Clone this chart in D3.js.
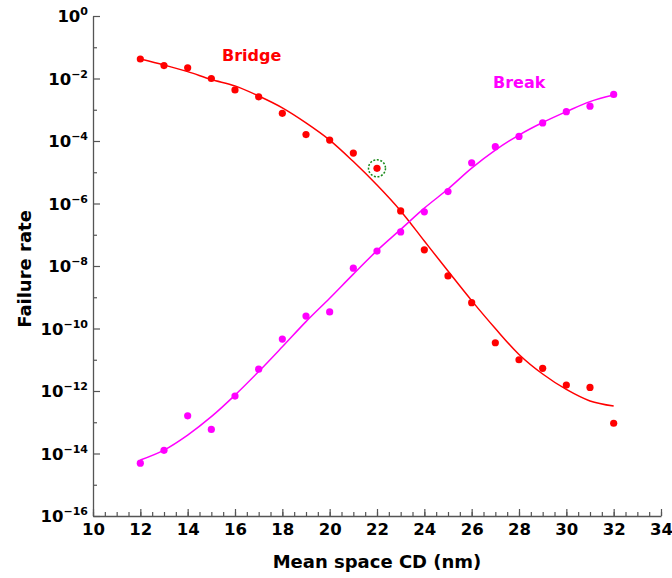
<!DOCTYPE html>
<html>
<head>
<meta charset="utf-8">
<script src="https://cdn.jsdelivr.net/npm/d3@7/dist/d3.min.js"></script>
<style>
  body { margin: 0; background: #fff; }
  svg { display: block; font-family: "DejaVu Sans", Verdana, sans-serif; font-weight: bold; }
</style>
</head>
<body>
<div id="chart"></div>
<script>
// mean space CD (nm)
const spaceCD = [12, 13, 14, 15, 16, 17, 18, 19, 20, 21, 22, 23, 24, 25, 26, 27, 28, 29, 30, 31, 32];

// measured failure rates
const bridgePoints = [4.2e-2, 2.6e-2, 2.2e-2, 1.0e-2, 4.3e-3, 2.6e-3, 7.7e-4, 1.6e-4, 1.07e-4, 4.1e-5, 1.34e-5,
  5.8e-7, 3.3e-8, 4.8e-9, 6.7e-10, 3.5e-11, 1.0e-11, 5.3e-12, 1.55e-12, 1.3e-12, 9.3e-14];
const breakPoints = [4.9e-15, 1.26e-14, 1.6e-13, 5.9e-14, 6.9e-13, 5.0e-12, 4.6e-11, 2.5e-10, 3.4e-10, 8.5e-9, 3.0e-8,
  1.23e-7, 5.4e-7, 2.4e-6, 2.0e-5, 6.6e-5, 1.4e-4, 3.8e-4, 8.7e-4, 1.3e-3, 3.1e-3];

// fitted curves (at each CD)
const bridgeFit = [4.2e-2, 2.7e-2, 1.66e-2, 9.3e-3, 5.8e-3, 2.75e-3, 1.15e-3, 3.8e-4, 1.07e-4, 2.2e-5, 3.9e-6,
  5.8e-7, 6.3e-8, 6.9e-9, 7.8e-10, 1.0e-10, 1.48e-11, 3.5e-12, 1.12e-12, 4.8e-13, 3.3e-13];
const breakFit = [6.2e-15, 1.29e-14, 3.9e-14, 1.51e-13, 7.4e-13, 4.2e-12, 2.6e-11, 1.66e-10, 9.3e-10, 5.5e-9, 3.1e-8,
  1.48e-7, 7.1e-7, 2.9e-6, 1.35e-5, 5.1e-5, 1.55e-4, 3.9e-4, 8.7e-4, 1.82e-3, 2.95e-3];

const highlightCD = 22;

const xTicks = [10, 12, 14, 16, 18, 20, 22, 24, 26, 28, 30, 32, 34];
const yExponents = [0, -2, -4, -6, -8, -10, -12, -14, -16];
const yMinorExponents = [-1, -3, -5, -7, -9, -11, -13, -15];

const W = 672, H = 578;
const margin = {top: 16, right: 11, bottom: 62, left: 93};
const width = W - margin.left - margin.right;
const height = H - margin.top - margin.bottom;

const svg = d3.select("#chart").append("svg")
    .attr("width", W)
    .attr("height", H);

const g = svg.append("g")
    .attr("transform", `translate(${margin.left},${margin.top})`);

const x = d3.scaleLinear().domain([10, 34]).range([0, width]);
const y = d3.scaleLog().domain([1e-16, 1]).range([height, 0]);

const axisColor = "#555";

// x axis: major + minor ticks pointing inward
const xMinor = d3.range(0, 49).map(i => 10 + i * 0.5);
g.append("g")
    .attr("transform", `translate(0,${height})`)
    .call(d3.axisBottom(x).tickValues(xMinor).tickSizeInner(-4).tickSizeOuter(0).tickFormat(""))
    .call(a => a.select(".domain").remove())
    .call(a => a.selectAll("line").attr("stroke", axisColor).attr("stroke-width", 1.2));

const xAxis = g.append("g")
    .attr("transform", `translate(0,${height})`)
    .call(d3.axisBottom(x).tickValues(xTicks).tickSizeInner(-7).tickSizeOuter(0).tickPadding(3).tickFormat(d3.format("d")));
xAxis.select(".domain").attr("stroke", axisColor).attr("stroke-width", 1.3);
xAxis.selectAll("line").attr("stroke", axisColor).attr("stroke-width", 1.2);
xAxis.selectAll("text")
    .attr("fill", "#000")
    .style("font-family", "DejaVu Sans")
    .style("font-weight", "bold")
    .style("font-size", "16.5px")
    .attr("dy", "0.95em");

// y axis
g.append("g")
    .call(d3.axisLeft(y).tickValues(yMinorExponents.map(e => Math.pow(10, e))).tickSizeInner(-4).tickSizeOuter(0).tickFormat(""))
    .call(a => a.select(".domain").remove())
    .call(a => a.selectAll("line").attr("stroke", axisColor).attr("stroke-width", 1.2));

const yAxis = g.append("g")
    .call(d3.axisLeft(y).tickValues(yExponents.map(e => Math.pow(10, e))).tickSizeInner(-7).tickSizeOuter(0).tickFormat(""));
yAxis.select(".domain").attr("stroke", axisColor).attr("stroke-width", 1.3);
yAxis.selectAll("line").attr("stroke", axisColor).attr("stroke-width", 1.2);

// y tick labels as 10 with superscript exponent
const yLab = g.append("g").selectAll("text")
    .data(yExponents)
    .enter().append("text")
    .attr("x", -5)
    .attr("y", d => y(Math.pow(10, d)) + 6)
    .attr("text-anchor", "end")
    .attr("fill", "#000");
yLab.append("tspan")
    .style("font-size", "16.5px")
    .text("10");
yLab.append("tspan")
    .attr("dy", -7)
    .style("font-size", "11px")
    .text(d => d < 0 ? "\u2212" + (-d) : "" + d);

// axis titles
svg.append("text")
    .attr("x", margin.left + width / 2)
    .attr("y", 568)
    .attr("text-anchor", "middle")
    .style("font-size", "18px")
    .text("Mean space CD (nm)");

svg.append("text")
    .attr("transform", `translate(31,${margin.top + height / 2 + 3}) rotate(-90)`)
    .attr("text-anchor", "middle")
    .style("font-size", "18px")
    .text("Failure rate");

// fitted lines
const line = d3.line()
    .x(d => x(d[0]))
    .y(d => y(d[1]))
    .curve(d3.curveCatmullRom.alpha(0.5));

const series = [
  {name: "Bridge", color: "#ff0000", pts: bridgePoints, fit: bridgeFit, lx: 222, ly: 61},
  {name: "Break", color: "#ff00ff", pts: breakPoints, fit: breakFit, lx: 493, ly: 88}
];

series.forEach(s => {
  g.append("path")
      .datum(spaceCD.map((c, i) => [c, s.fit[i]]))
      .attr("fill", "none")
      .attr("stroke", s.color)
      .attr("stroke-width", 1.5)
      .attr("d", line);

  g.append("g").selectAll("circle")
      .data(spaceCD.map((c, i) => [c, s.pts[i]]))
      .enter().append("circle")
      .attr("cx", d => x(d[0]))
      .attr("cy", d => y(d[1]))
      .attr("r", 3.6)
      .attr("fill", s.color);

  svg.append("text")
      .attr("x", s.lx)
      .attr("y", s.ly)
      .attr("fill", s.color)
      .style("font-size", "16px")
      .text(s.name);
});

// highlighted bridge point
const hi = spaceCD.indexOf(highlightCD);
g.append("circle")
    .attr("cx", x(highlightCD))
    .attr("cy", y(bridgePoints[hi]))
    .attr("r", 8.5)
    .attr("fill", "none")
    .attr("stroke", "#1a8a1a")
    .attr("stroke-width", 1.5)
    .attr("stroke-dasharray", "2,1.6");
</script>
</body>
</html>
